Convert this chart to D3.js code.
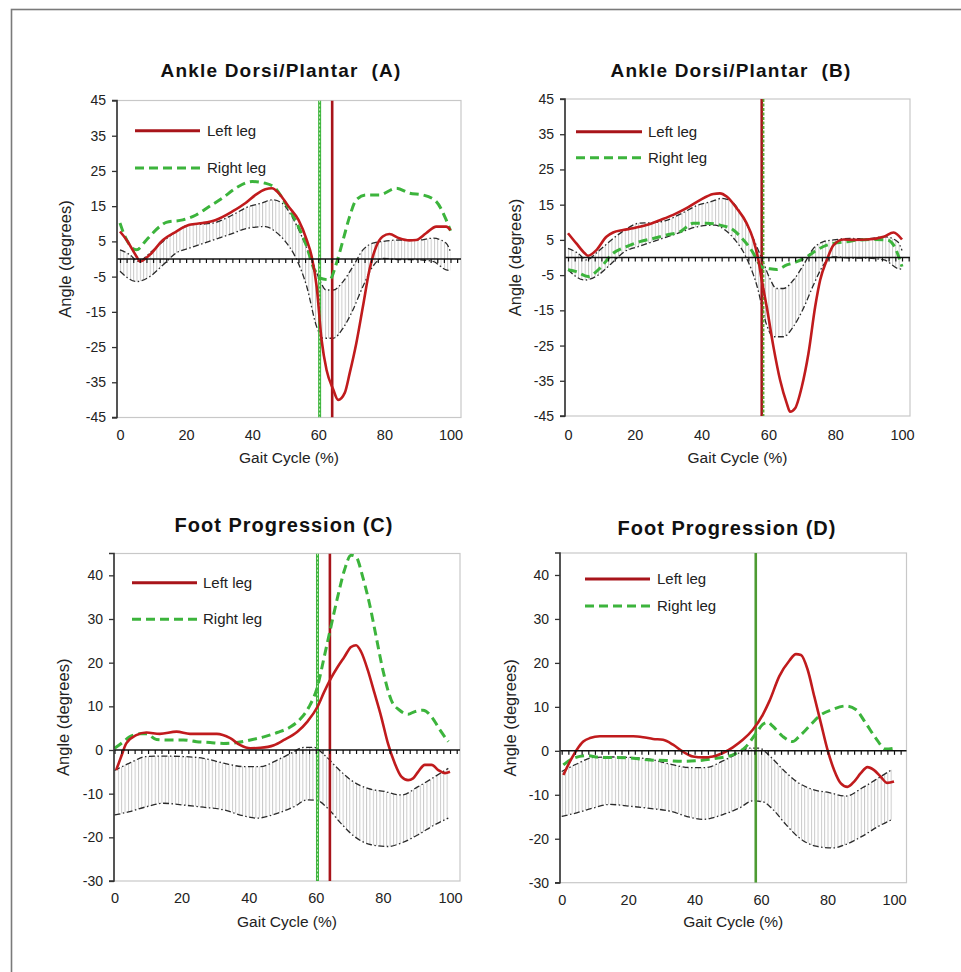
<!DOCTYPE html>
<html><head><meta charset="utf-8">
<script src="https://cdn.jsdelivr.net/npm/d3@7/dist/d3.min.js"></script>
<style>body{margin:0;background:#fff}svg{display:block}</style>
</head><body><svg id="c" width="961" height="972"></svg>
<script>
// ---------- data ----------
const gaitTicks = [0, 20, 40, 60, 80, 100];
const ankleTicks = [45, 35, 25, 15, 5, -5, -15, -25, -35, -45];
const footTicks = [40, 30, 20, 10, 0, -10, -20, -30];
const legendLabels = ["Left leg", "Right leg"];
const titles = ["Ankle Dorsi/Plantar  (A)", "Ankle Dorsi/Plantar  (B)", "Foot Progression (C)", "Foot Progression (D)"];

const ankleNormUpper = [[0,2.6],[3,1.2],[5.5,-0.7],[9,1.7],[13,5],[17,7.8],[21,9.7],[25,9.9],[29,10.4],[34,12.5],[39,14.9],[43,15.9],[46,16.8],[49,15.9],[52,12.1],[55,6.4],[58.4,-1.2],[60.4,-5.9],[62.4,-8.8],[64.5,-8.8],[67.5,-6.4],[70.5,-2.1],[73.5,2.6],[76.5,4.5],[79.5,5],[84.6,5.4],[89.6,5.3],[94.7,5.9],[98.7,4.5],[100,2]];
const ankleNormLower = [[0,-3.5],[5,-6.4],[9,-5],[13,-1.7],[17,1.7],[21,3.1],[27,5],[33,6.9],[39,8.8],[44,9.2],[47,7.8],[50,5],[53,0.7],[56.5,-7.8],[59.5,-19.2],[61.4,-22.5],[64.5,-22.5],[67.5,-19.6],[70.5,-14.4],[73.5,-7.8],[76.5,-2.1],[79.5,0.2],[84.6,-0.2],[89.6,-0.2],[94.7,-0.7],[98.7,-3.1],[100,-3.3]];
const footNormUpper = [[0,-4.7],[4.5,-3],[9.5,-1.5],[14.5,-1.4],[20.5,-1.5],[26.5,-1.9],[32.5,-3],[38.5,-3.8],[43.5,-3.8],[48.5,-2.3],[52.5,-0.8],[56.5,0.6],[59.5,0.6],[62.5,-1.1],[66.5,-4.2],[70.5,-6.9],[75.5,-8.8],[80.5,-9.5],[85.5,-10.3],[90.5,-8.4],[95.5,-6.1],[99.5,-4.2]];
const footNormLower = [[0,-14.9],[4.5,-14.1],[9.5,-13],[14.5,-12.2],[20.5,-12.6],[26.5,-13.1],[32.5,-13.7],[38.5,-15.1],[42.5,-15.6],[48.5,-14.5],[53.5,-13],[57.5,-11.4],[60.5,-11.6],[63.5,-13.3],[67.5,-16.8],[71.5,-19.8],[76.5,-21.7],[81.5,-22.1],[85.5,-21.3],[90.5,-19.4],[95.5,-17.1],[99.5,-15.6]];

const ankleLeftA = [[0,7.8],[2,5.4],[5,0.7],[6,-0.7],[9,1.2],[13,5.4],[17,7.8],[21,9.7],[25,10.2],[29,11.1],[34,13.5],[38,15.9],[41,18.2],[44,19.8],[46,20.1],[48,18.7],[51,14.9],[54,11.1],[56.5,5.4],[58,0.7],[59.5,-7.8],[61,-23],[62.5,-31.5],[64.5,-37],[66,-40],[68,-38],[69.5,-32.4],[71.5,-23.9],[73.5,-13.5],[75.5,-3],[77.5,3.5],[79.5,6.4],[81.5,7.1],[84.5,5.9],[87.5,5.3],[89.6,5.4],[92.6,7.3],[95.7,9.2],[98.7,9.2],[100,8.2]];
const ankleRightA = [[0,10.2],[1.5,6.4],[5,2.6],[8,5.4],[12,9.2],[14,10.4],[19,11.1],[23,12.5],[27,14.9],[31,17.3],[35,20.1],[40,22],[44,21.5],[47,20.1],[50,15.9],[53,11.1],[56.5,3.5],[58.4,-2.1],[60.4,-5.4],[63.4,-5.9],[65.5,-1.2],[67.5,5.4],[69.5,12.1],[71.5,16.8],[74.5,18.2],[78.5,18.2],[83.6,20.1],[87.6,18.7],[91.6,18.2],[95.7,16.3],[98.7,11.1],[100,8]];
const ankleLeftB = [[0,6.9],[2.5,4],[5,1.2],[6,0.5],[8.5,2.1],[11.5,5.9],[13.5,7.1],[16.5,7.8],[19.5,8.3],[23.5,9.2],[27.5,10.6],[31.5,12.1],[35.5,14],[39.5,16.3],[43.5,18],[45.5,18.2],[47.5,17.3],[50.5,14],[53.5,9.7],[55.5,5],[57,-0.7],[58,-6.4],[59.5,-14],[61.5,-25.3],[63.5,-34.8],[65.5,-41.4],[66.5,-43.8],[68,-42.8],[70,-36.7],[72,-27.2],[74,-14],[75.5,-6.4],[77.5,-0.7],[79.5,3.5],[82.5,5.1],[85.5,5],[89.5,5.1],[94.5,5.9],[97.5,7.1],[100,5.1]];
const ankleRightB = [[0,-3.5],[2.5,-4],[6,-5.4],[9.5,-3.1],[13.5,1.2],[17.5,3.1],[21.5,4.5],[25.5,5.4],[29.5,6.4],[33.5,7.3],[37.5,9.7],[41.5,9.7],[45.5,9.2],[49.5,7.8],[52.5,5],[55.5,1.2],[57,-1.5],[58.5,-3],[59.5,-3.1],[62.5,-3.4],[65.5,-2.1],[68.5,-1.2],[71.5,0.2],[74.5,2.1],[77.5,3.5],[79.5,4],[83.5,4.5],[87.5,5],[91.5,5.1],[95.5,5],[97.5,3.5],[100,-2.6]];
const footLeftC = [[0.5,-4.6],[2,-1.5],[3.5,1.5],[6.5,3.4],[9.5,4],[13.5,3.7],[18.5,4.2],[22.5,3.7],[26.5,3.7],[30.5,3.7],[34.5,2.7],[37.5,1.1],[40.5,0.4],[43.5,0.5],[47.5,1.1],[50.5,2.3],[54.5,4.2],[57.5,6.5],[60.5,9.9],[62.5,13.3],[64.5,16.4],[66.5,19],[68.5,21.3],[70.5,23.6],[72,24],[73.5,22.5],[75.5,18.3],[77.5,13],[79.5,7.6],[81.5,1.5],[83.5,-3],[85.5,-6.1],[87.5,-6.9],[89,-6.5],[90.5,-5],[92.5,-3.4],[94.5,-3.4],[96.5,-4.6],[98.5,-5.3],[100,-5]];
const footRightC = [[0,0.4],[2,1.5],[4.5,3],[7.5,3.7],[9.5,3.7],[12.5,2.4],[16.5,2.3],[20.5,2.3],[24.5,1.9],[28.5,1.7],[32.5,1.5],[36.5,1.7],[40.5,2.3],[44.5,3],[48.5,4],[52.5,5.3],[55.5,7.2],[58,9.9],[60.5,14.5],[62.5,21.3],[64.5,28.2],[66.5,35],[68.5,41.1],[70.5,44.6],[72,44.2],[74,39.6],[76,33.5],[78,25.9],[80,18.3],[82.5,11.4],[85,9.1],[87.5,8.2],[89.5,8.8],[92,9.1],[94.5,7.6],[97,4.6],[99.5,1.9]];
const footLeftD = [[0.5,-5.5],[2.5,-2.4],[4.5,0.2],[6.5,2.1],[8.5,2.9],[11.5,3.3],[16.5,3.3],[21.5,3.3],[24.5,3.1],[27.5,2.7],[30.5,2.5],[33.5,1.4],[36.5,-0.2],[39.5,-1.3],[42.5,-1.5],[45.5,-1.3],[48.5,-0.5],[51.5,0.8],[54.5,2.5],[57.5,4.8],[60.5,8.2],[62.5,11.3],[65.5,17],[68.5,20.5],[70.5,22],[72,21.8],[74,18.5],[76,12.4],[78,6.3],[80,0.2],[82,-4.4],[84,-7.4],[86,-8.2],[88,-7],[90,-5.1],[92,-3.7],[94,-4.4],[96,-5.9],[98,-7.3],[100,-7]];
const footRightD = [[0.5,-3.2],[3.5,-1.7],[7.5,-1.1],[11.5,-1.5],[16.5,-1.5],[21.5,-1.7],[26.5,-2.1],[31.5,-2.2],[36.5,-2.4],[41.5,-2.2],[46.5,-1.7],[51.5,-0.9],[55.5,1],[58.5,4],[60.5,6],[62,6.5],[63.5,5.6],[66.5,3.3],[69.5,2.1],[71.5,3.3],[74.5,5.6],[77.5,7.9],[81.5,9.4],[85.5,10.2],[88.5,9.4],[91.5,6.3],[94.5,2.9],[97.5,0.4],[100,0.6]];

// toe-off event lines (% gait cycle)
const toeOffLeft = [64.2, 58.0, 64.2, null];
const toeOffRight = [60.4, 58.3, 60.5, 58.4];

// ---------- layout ----------
const layout = [
  {left:117, right:461, top:100.5, bottom:417.5, x0:120, x100:450.5, yMin:-45, yMax:45, tX:281, tY:77, ylX:65, xlY:440, xtY:463, lg:{x1:135,x2:200,y1:130.7,y2:168,tx:207}},
  {left:565, right:910, top:99, bottom:416, x0:568, x100:902, yMin:-45, yMax:45, tX:731, tY:77, ylX:515, xlY:440, xtY:463, lg:{x1:576,x2:642,y1:131.7,y2:157.7,tx:648}},
  {left:114, right:460, top:553.5, bottom:881, x0:114.5, x100:450, yMin:-30, yMax:45, tX:284, tY:532, ylX:63, xlY:903, xtY:927, lg:{x1:132,x2:197,y1:582.7,y2:619.3,tx:203}},
  {left:560, right:906.5, top:553, bottom:882.7, x0:561.7, x100:894, yMin:-30, yMax:45, tX:727, tY:535, ylX:510, xlY:905, xtY:927, lg:{x1:585,x2:650,y1:579,y2:606,tx:657}}
];
const panelData = [
  {left:ankleLeftA, right:ankleRightA, up:ankleNormUpper, lo:ankleNormLower, ticks:ankleTicks},
  {left:ankleLeftB, right:ankleRightB, up:ankleNormUpper, lo:ankleNormLower, ticks:ankleTicks},
  {left:footLeftC, right:footRightC, up:footNormUpper, lo:footNormLower, ticks:footTicks},
  {left:footLeftD, right:footRightD, up:footNormUpper, lo:footNormLower, ticks:footTicks}
];

const RED = "#c01b1d", RED_V = "#a8141a", GREEN = "#3cb43c", GREEN_V = "#4d9b33";
const FONT = "'Liberation Sans', Arial, sans-serif";

const svg = d3.select("#c");
svg.append("rect").attr("width",961).attr("height",972).attr("fill","#fff");
// outer frame
svg.append("rect").attr("x",11.5).attr("y",9.5).attr("width",980).attr("height",1000)
  .attr("fill","none").attr("stroke","#7a7a7a").attr("stroke-width",1.6);

const defs = svg.append("defs");

layout.forEach((L, i) => {
  const P = panelData[i];
  const x = d3.scaleLinear().domain([0,100]).range([L.x0, L.x100]);
  const y = d3.scaleLinear().domain([L.yMin, L.yMax]).range([L.bottom, L.top]);
  const g = svg.append("g");

  defs.append("clipPath").attr("id","clip"+i).append("rect")
    .attr("x",L.left).attr("y",L.top).attr("width",L.right-L.left).attr("height",L.bottom-L.top);
  const step = (L.x100 - L.x0)/100;
  const pat = defs.append("pattern").attr("id","hatch"+i).attr("patternUnits","userSpaceOnUse")
    .attr("x", L.x0).attr("y",0).attr("width", step).attr("height", 20);
  pat.append("line").attr("x1",0.5).attr("x2",0.5).attr("y1",0).attr("y2",20)
    .attr("stroke","#c4c4c4").attr("stroke-width",0.9);

  g.append("rect").attr("x",L.left).attr("y",L.top).attr("width",L.right-L.left).attr("height",L.bottom-L.top)
    .attr("fill","none").attr("stroke","#c8c8c8").attr("stroke-width",1.2);

  const plot = g.append("g").attr("clip-path","url(#clip"+i+")");

  // normal band (hatched area between upper and lower limits)
  const lineGen = d3.line().curve(d3.curveMonotoneX).x(d=>x(d[0])).y(d=>y(d[1]));
  const upPath = lineGen(P.up);
  const loPathRev = lineGen(P.lo.slice().reverse());
  plot.append("path").attr("d", upPath + "L" + loPathRev.slice(1) + "Z")
    .attr("fill","url(#hatch"+i+")").attr("stroke","none");
  [P.up, P.lo].forEach(arr => {
    plot.append("path").attr("d", lineGen(arr)).attr("fill","none")
      .attr("stroke","#2a2a2a").attr("stroke-width",1.3).attr("stroke-dasharray","6,2.5,1.5,2.5");
  });

  // zero line with minor ticks
  g.append("line").attr("x1",L.left).attr("x2",L.right).attr("y1",y(0)).attr("y2",y(0))
    .attr("stroke","#111").attr("stroke-width",1.5);
  const zeroAxis = d3.axisBottom(x).tickValues(d3.range(0,104,2)).tickSize(4).tickFormat("");
  const za = g.append("g").attr("transform","translate(0,"+y(0)+")").call(zeroAxis);
  za.select(".domain").remove();
  za.selectAll(".tick line").attr("stroke","#111").attr("stroke-width",1.2);

  // event lines
  if (toeOffRight[i] != null) {
    const xv = x(toeOffRight[i]);
    if (i === 3) {
      plot.append("line").attr("x1",xv).attr("x2",xv).attr("y1",L.top).attr("y2",L.bottom)
        .attr("stroke",GREEN_V).attr("stroke-width",2.6);
    } else if (i !== 1) {
      plot.append("line").attr("x1",xv).attr("x2",xv).attr("y1",L.top).attr("y2",L.bottom)
        .attr("stroke",GREEN).attr("stroke-width",3);
      plot.append("line").attr("x1",xv).attr("x2",xv).attr("y1",L.top).attr("y2",L.bottom)
        .attr("stroke","#d8f2cc").attr("stroke-width",1).attr("stroke-dasharray","2,2");
    }
  }
  if (toeOffLeft[i] != null) {
    const xv = x(toeOffLeft[i]);
    plot.append("line").attr("x1",xv).attr("x2",xv).attr("y1",L.top).attr("y2",L.bottom)
      .attr("stroke",RED_V).attr("stroke-width",2.6);
  }
  if (i === 1) {
    const xv = x(toeOffRight[i]) + 0.8;
    plot.append("line").attr("x1",xv).attr("x2",xv).attr("y1",L.top).attr("y2",L.bottom)
      .attr("stroke","#5aa832").attr("stroke-width",1.8).attr("stroke-dasharray","3,1.5");
  }

  // curves
  plot.append("path").attr("d", lineGen(P.right)).attr("fill","none")
    .attr("stroke",GREEN).attr("stroke-width",3).attr("stroke-dasharray","9,5");
  plot.append("path").attr("d", lineGen(P.left)).attr("fill","none")
    .attr("stroke",RED).attr("stroke-width",2.6).attr("stroke-linejoin","round");

  // y axis
  const yAxis = d3.axisLeft(y).tickValues(P.ticks).tickSize(5).tickPadding(6).tickFormat(d3.format("d"));
  const ya = g.append("g").attr("transform","translate("+L.left+",0)").call(yAxis);
  ya.select(".domain").attr("stroke","#333").attr("stroke-width",1.6).attr("d","M-5,"+y(L.yMax)+"H0V"+L.bottom+"H-5");
  ya.selectAll(".tick line").attr("stroke","#333").attr("stroke-width",1.3);
  ya.selectAll(".tick text").attr("fill","#222").style("font-family",FONT).style("font-size","14px")
    .text(d => d < 0 ? "-" + Math.abs(d) : d);

  // x labels (bottom)
  const xAxis = d3.axisBottom(x).tickValues(gaitTicks).tickSize(0).tickPadding(0);
  const xa = g.append("g").attr("transform","translate(0,"+L.xlY+")").call(xAxis);
  xa.select(".domain").remove();
  xa.selectAll(".tick text").attr("fill","#222").attr("dy",0).attr("y",0)
    .style("font-family",FONT).style("font-size","14.5px");

  // axis titles
  g.append("text").attr("x",(L.left+L.right)/2).attr("y",L.xtY).attr("text-anchor","middle")
    .style("font-family",FONT).style("font-size","15.5px").attr("fill","#222").text("Gait Cycle (%)");
  g.append("text").attr("transform","translate("+L.ylX+","+((L.top+L.bottom)/2)+") rotate(-90)")
    .attr("text-anchor","middle").attr("dy","0.35em")
    .style("font-family",FONT).style("font-size","16.5px").attr("fill","#222").text("Angle (degrees)");

  // title
  g.append("text").attr("x",L.tX).attr("y",L.tY).attr("text-anchor","middle")
    .style("font-family",FONT).style("font-size", i<2 ? "19px" : "20px").style("font-weight","bold")
    .style("letter-spacing", i<2 ? "1.2px" : "1px").style("white-space","pre").attr("fill","#111")
    .text(titles[i]);

  // legend
  const lg = L.lg;
  g.append("line").attr("x1",lg.x1).attr("x2",lg.x2).attr("y1",lg.y1).attr("y2",lg.y1)
    .attr("stroke",RED_V).attr("stroke-width",3);
  g.append("line").attr("x1",lg.x1).attr("x2",lg.x2).attr("y1",lg.y2).attr("y2",lg.y2)
    .attr("stroke",GREEN).attr("stroke-width",3).attr("stroke-dasharray","9,5");
  [lg.y1, lg.y2].forEach((yy, k) => {
    g.append("text").attr("x",lg.tx).attr("y",yy+5).style("font-family",FONT)
      .style("font-size","15px").attr("fill","#222").text(legendLabels[k]);
  });
});
</script>
</body></html>
